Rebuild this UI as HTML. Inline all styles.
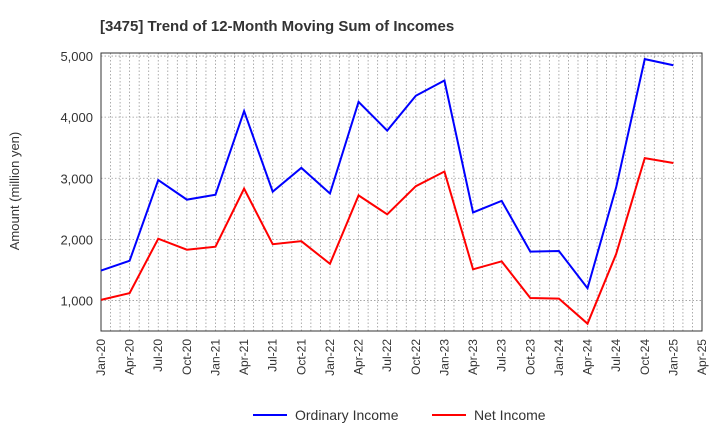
<!DOCTYPE html>
<html><head><meta charset="utf-8"><style>
body{margin:0;background:#fff;font-family:"Liberation Sans",sans-serif}
</style></head><body>
<svg width="720" height="440" id="c">
<text x="100" y="31" font-size="15" font-weight="bold" fill="#333">[3475]  Trend of 12-Month Moving Sum of Incomes</text>
<text transform="translate(19,191) rotate(-90)" text-anchor="middle" font-size="13" fill="#333">Amount (million yen)</text>
<g id="grid"></g><g id="axes"></g><g id="series"></g>
<g>
<line x1="253" y1="415" x2="287" y2="415" stroke="#0000ff" stroke-width="2"/>
<text x="295" y="420" font-size="14" fill="#333">Ordinary Income</text>
<line x1="432" y1="415" x2="466" y2="415" stroke="#ff0000" stroke-width="2"/>
<text x="474" y="420" font-size="14" fill="#333">Net Income</text>
</g>
</svg>
<script>
const xLabels=["Jan-20","Apr-20","Jul-20","Oct-20","Jan-21","Apr-21","Jul-21","Oct-21","Jan-22","Apr-22","Jul-22","Oct-22","Jan-23","Apr-23","Jul-23","Oct-23","Jan-24","Apr-24","Jul-24","Oct-24","Jan-25","Apr-25"];
const yTicks=[1000,2000,3000,4000,5000];
const ordinaryIncome=[1490,1650,2970,2650,2730,4100,2780,3170,2750,4250,3780,4350,4600,2440,2630,1800,1810,1200,2850,4950,4850];
const netIncome=[1010,1120,2010,1830,1880,2830,1920,1970,1600,2720,2410,2870,3110,1510,1640,1040,1030,620,1760,3330,3250];
const L=101,R=702,T=53,B=331,yMin=500,yMax=5050;
const NS="http://www.w3.org/2000/svg";
const xs=i=>L+(R-L)*i/(xLabels.length-1);
const ys=v=>B-(v-yMin)/(yMax-yMin)*(B-T);
function mk(t,a,p){const e=document.createElementNS(NS,t);for(const k in a)e.setAttribute(k,a[k]);p.appendChild(e);return e;}
const grid=document.getElementById('grid'),axes=document.getElementById('axes'),ser=document.getElementById('series');
for(let m=1;m<(xLabels.length-1)*3;m++){const x=L+(R-L)*m/((xLabels.length-1)*3);
const g=mk('line',{x1:x,x2:x,y1:T,y2:B,stroke:'#999','stroke-dasharray':'1.5,2','stroke-width':0.8},grid);
}
yTicks.forEach(v=>{const g=mk('line',{x1:L,x2:R,y1:ys(v),y2:ys(v),stroke:'#999','stroke-dasharray':'1.5,2','stroke-width':0.8},grid);

const t=mk('text',{x:L-8,y:ys(v)+5,'text-anchor':'end','font-size':13,fill:'#333'},axes);t.textContent=v.toLocaleString('en-US');
});
xLabels.forEach((l,i)=>{const x=xs(i);const t=mk('text',{transform:`translate(${x+4},${B+8}) rotate(-90)`,'text-anchor':'end','font-size':12,fill:'#333'},axes);t.textContent=l;
});
const fr=mk('rect',{x:L,y:T,width:R-L,height:B-T,fill:'none',stroke:'#333','stroke-width':1},axes);

function line(d,c,n){const p=mk('polyline',{points:d.map((v,i)=>xs(i)+','+ys(v)).join(' '),fill:'none',stroke:c,'stroke-width':2},ser);
}
line(ordinaryIncome,'#0000ff','ordinary-income-line');
line(netIncome,'#ff0000','net-income-line');
</script>
</body></html>
